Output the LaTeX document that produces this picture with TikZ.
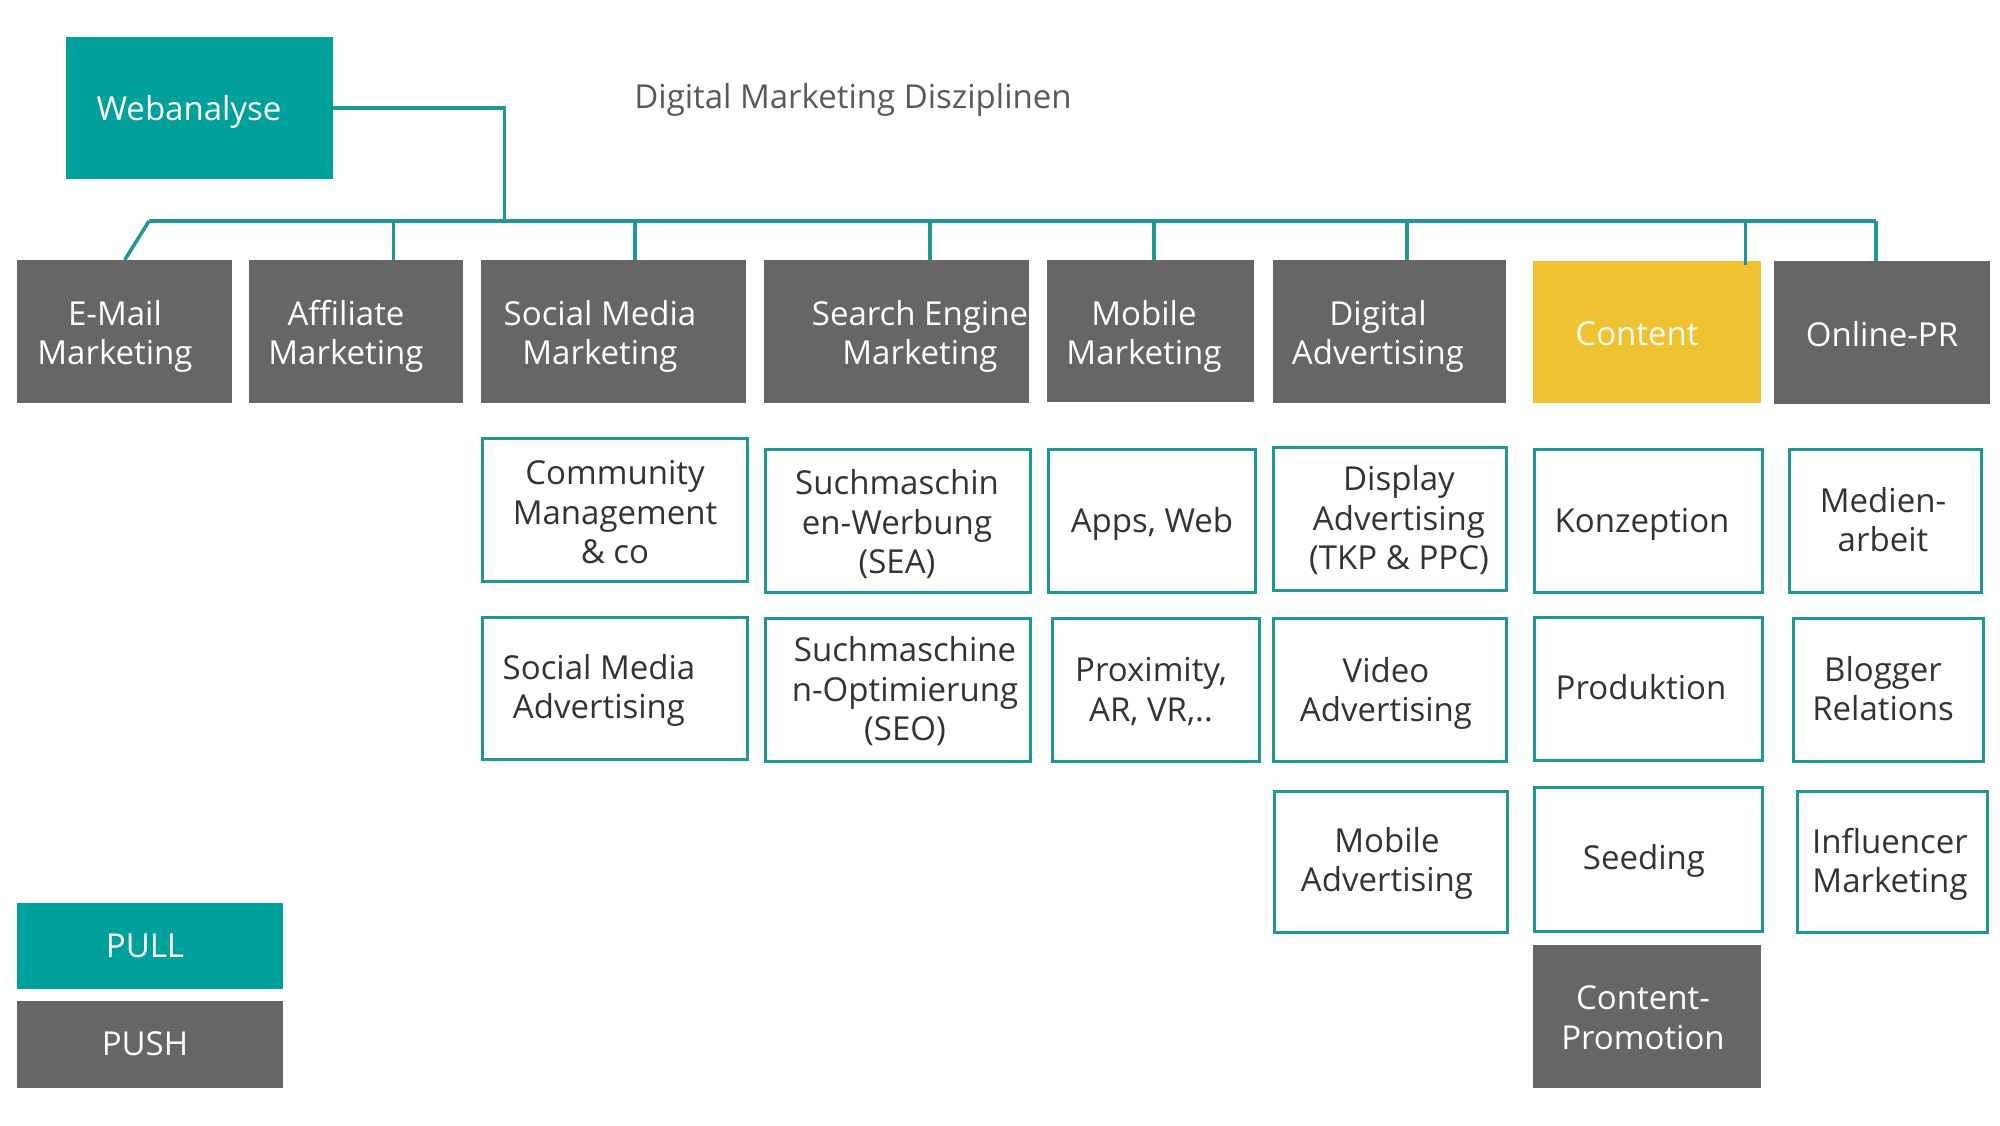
\documentclass[tikz,border=0pt]{standalone}
\usepackage{fontspec}
\setmainfont{Open Sans}
\usetikzlibrary{calc}
\definecolor{tealfill}{HTML}{00A19A}
\definecolor{tealline}{HTML}{1F9892}
\definecolor{grayfill}{HTML}{666666}
\definecolor{yelfill}{HTML}{EFC232}
\definecolor{txtdark}{HTML}{333333}
\definecolor{titlegray}{HTML}{595959}
\newcommand\bx[6]{\node[#6, anchor=north west, inner sep=0pt, minimum width={#4-#2}, minimum height={#5-#3}] (#1) at (#2,#3) {};}
\begin{document}
\begin{tikzpicture}[x=1pt,y=-1pt,
  pullbox/.style={fill=tealfill, draw=none},
  pushbox/.style={fill=grayfill, draw=none},
  yelbox/.style={fill=yelfill, draw=none},
  outbox/.style={fill=white, draw=tealline, line width=3pt},
  basetxt/.style={align=center, inner sep=0pt, yshift=-4.5pt, font=\fontsize{33}{39.5}\selectfont},
  wtxt/.style={basetxt, text=white},
  dtxt/.style={basetxt, text=txtdark},
  ytxt/.style={basetxt, text=white!92!yelfill},
  conn/.style={draw=tealline, line width=3.5pt}]
\useasboundingbox (0,0) rectangle (2000,1125);
\fill[white] (0,0) rectangle (2000,1125);

% header
\bx{web}{66}{37}{333}{179}{pullbox}
\node[wtxt] (tweb) at (189,107) {Webanalyse};
\node[basetxt, text=titlegray] (title) at (853,95) {Digital Marketing Disziplinen};

% top row
\bx{email}{17}{260}{232}{403}{pushbox}
\bx{affil}{249}{260}{463}{403}{pushbox}
\bx{smm}{481}{260}{746}{403}{pushbox}
\bx{sem}{764}{260}{1029}{403}{pushbox}
\bx{mob}{1047}{260}{1254}{402}{pushbox}
\bx{diga}{1273}{260}{1506}{403}{pushbox}
\bx{cont}{1533}{261}{1761}{403}{yelbox}
\bx{opr}{1774}{261}{1990}{404}{pushbox}
\node[wtxt] (temail) at (115,332) {E-Mail\\Marketing};
\node[wtxt] (taffil) at (346,332) {Affiliate\\Marketing};
\node[wtxt] (tsmm) at (600,332) {Social Media\\Marketing};
\node[wtxt] (tsem) at (920,332) {Search Engine\\Marketing};
\node[wtxt] (tmob) at (1144,332) {Mobile\\Marketing};
\node[wtxt] (tdiga) at (1378,332) {Digital\\Advertising};
\node[ytxt] (tcont) at (1637,329) {Content};
\node[wtxt] (topr) at (1882,330) {Online-PR};

% connectors
\coordinate (busL) at (149,221);
\coordinate (busR) at (1876,221);
\draw[conn] (web.east) -- ($(web.east)+(171,0)$) coordinate (wj) -- (wj |- busL);
\draw[conn] (busL) -- (busR);
\draw[conn] (busL) -- ($(email.north west)!0.5!(email.north east)$);
\draw[conn] ($(affil.north west)!0.673!(affil.north east)$) coordinate (d1) -- (d1 |- busL);
\draw[conn] ($(smm.north west)!0.58!(smm.north east)$) coordinate (d2) -- (d2 |- busL);
\draw[conn] ($(sem.north west)!0.626!(sem.north east)$) coordinate (d3) -- (d3 |- busL);
\draw[conn] ($(mob.north west)!0.517!(mob.north east)$) coordinate (d4) -- (d4 |- busL);
\draw[conn] ($(diga.north west)!0.575!(diga.north east)$) coordinate (d5) -- (d5 |- busL);
\draw[conn] ($(cont.north west)!0.93!(cont.north east)+(0,4)$) coordinate (d6) -- (d6 |- busL);
\draw[conn] (busR) -- (busR |- opr.north);

% second row
\bx{comm}{481}{437}{746}{580}{outbox}
\bx{sea}{764}{448}{1029}{591}{outbox}
\bx{apps}{1047}{448}{1254}{591}{outbox}
\bx{disp}{1272}{446}{1505}{589}{outbox}
\bx{konz}{1533}{448}{1761}{591}{outbox}
\bx{medi}{1788}{448}{1980}{591}{outbox}
\node[dtxt] (tcomm) at (615,508) {Community\\Management\\\& co};
\node[dtxt] (tsea) at (897,520) {Suchmaschin\\en-Werbung\\(SEA)};
\node[dtxt] (tapps) at (1152,519) {Apps, Web};
\node[dtxt] (tdisp) at (1399,516) {Display\\Advertising\\(TKP \& PPC)};
\node[dtxt] (tkonz) at (1642,520) {Konzeption};
\node[dtxt] (tmedi) at (1883,515) {Medien-\\arbeit};

% third row
\bx{sma}{481}{616}{746}{758}{outbox}
\bx{seo}{764}{617}{1029}{760}{outbox}
\bx{prox}{1051}{617}{1258}{760}{outbox}
\bx{vid}{1272}{617}{1505}{760}{outbox}
\bx{prod}{1533}{616}{1761}{759}{outbox}
\bx{blog}{1792}{617}{1982}{760}{outbox}
\node[dtxt] (tsma) at (599,686) {Social Media\\Advertising};
\node[dtxt] (tseo) at (905,687) {Suchmaschine\\n-Optimierung\\(SEO)};
\node[dtxt] (tprox) at (1151,687) {Proximity,\\AR, VR,..};
\node[dtxt] (tvid) at (1386,689) {Video\\Advertising};
\node[dtxt] (tprod) at (1641,683) {Produktion};
\node[dtxt] (tblog) at (1883,684) {Blogger\\Relations};

% fourth row
\bx{mad}{1273}{790}{1506}{931}{outbox}
\bx{seed}{1533}{786}{1761}{930}{outbox}
\bx{infl}{1796}{790}{1986}{931}{outbox}
\node[dtxt] (tmad) at (1387,859) {Mobile\\Advertising};
\node[dtxt] (tseed) at (1644,856) {Seeding};
\node[dtxt] (tinfl) at (1890,860) {Influencer\\Marketing};

% fifth row
\bx{cprom}{1533}{945}{1761}{1088}{pushbox}
\node[wtxt] (tcprom) at (1643,1013) {Content-\\Promotion};

% legend
\bx{pull}{17}{903}{283}{989}{pullbox}
\bx{push}{17}{1001}{283}{1088}{pushbox}
\node[wtxt] (tpull) at (145,941) {PULL};
\node[wtxt] (tpush) at (145,1039) {PUSH};
\end{tikzpicture}
\end{document}
